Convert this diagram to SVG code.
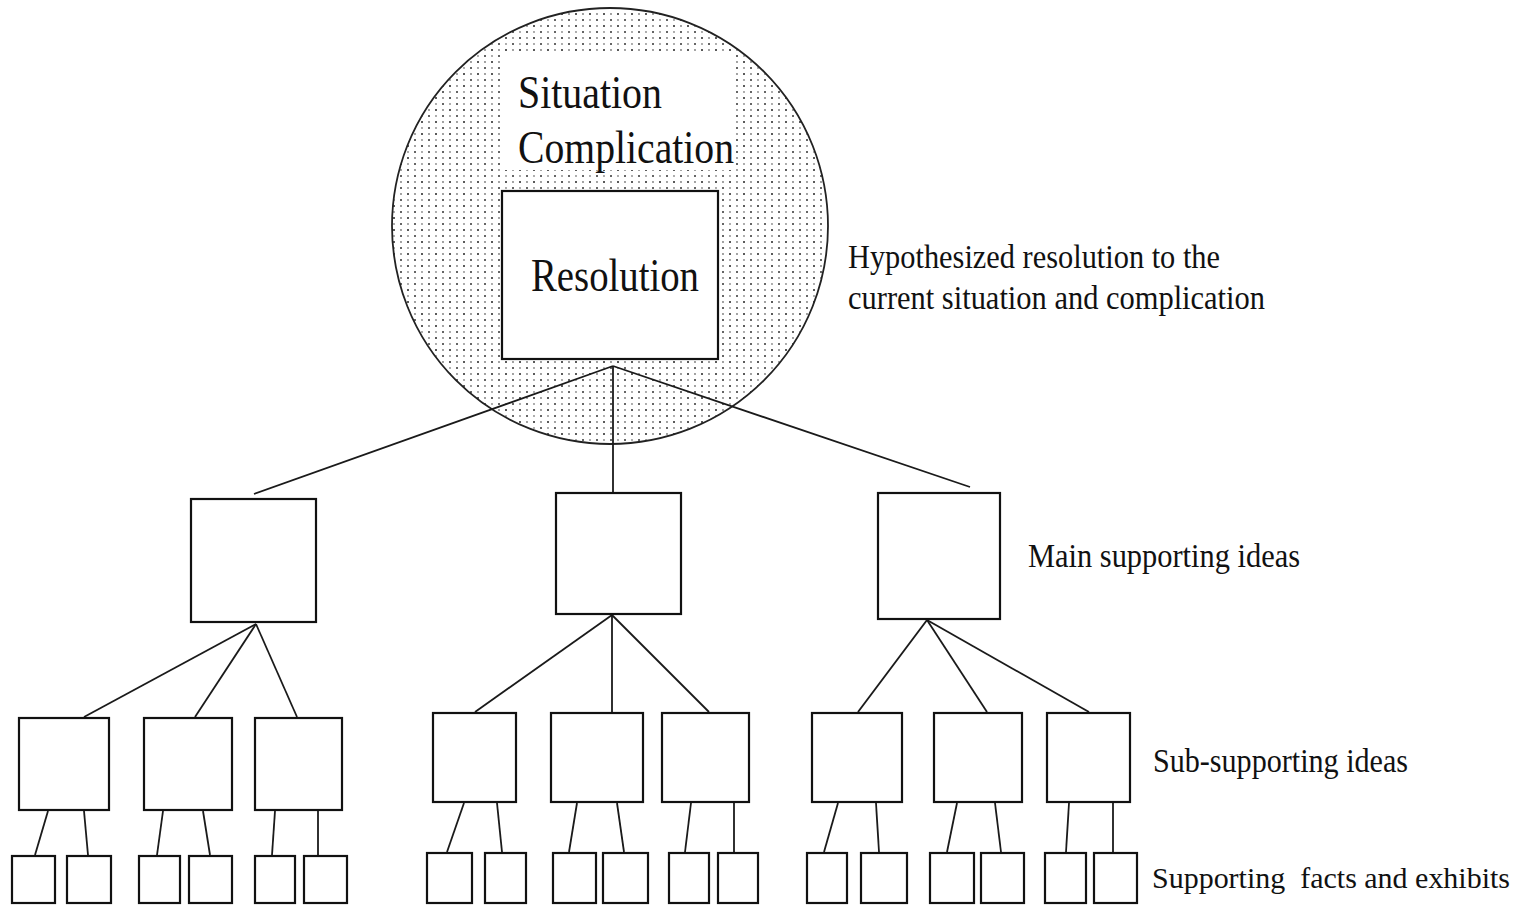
<svg xmlns="http://www.w3.org/2000/svg" width="1534" height="905" viewBox="0 0 1534 905">
<defs>
<pattern id="dots" x="0" y="0" width="14" height="12" patternUnits="userSpaceOnUse">
<rect x="0" y="0" width="14" height="12" fill="#fff"/>
<circle cx="2" cy="2" r="1" fill="#222"/>
<circle cx="9" cy="2" r="0.9" fill="#777"/>
<circle cx="2" cy="8" r="0.9" fill="#888"/>
<circle cx="9" cy="8" r="1" fill="#333"/>
</pattern>
<style>
.box{fill:#fff;stroke:#111;stroke-width:2.2}
.ln{stroke:#1a1a1a;stroke-width:1.8;fill:none}
.big{font-family:"Liberation Serif","Times New Roman",serif;font-size:46px;fill:#111}
.lbl{font-family:"Liberation Serif","Times New Roman",serif;font-size:33px;fill:#111}
</style>
</defs>
<rect width="1534" height="905" fill="#fff"/>
<g id="root">
<circle cx="610" cy="226" r="218" fill="url(#dots)" stroke="#222" stroke-width="1.8"/>
<rect x="505" y="55" width="230" height="115" fill="#fff"/>
<text class="big" x="518" y="108" textLength="144" lengthAdjust="spacingAndGlyphs">Situation</text>
<text class="big" x="518" y="163" textLength="216" lengthAdjust="spacingAndGlyphs">Complication</text>
<rect class="box" x="502" y="191" width="216" height="168"/>
<text class="big" x="531" y="291" textLength="168" lengthAdjust="spacingAndGlyphs">Resolution</text>
</g>
<g id="connectors">
<line class="ln" x1="613" y1="366" x2="254" y2="494"/>
<line class="ln" x1="613" y1="366" x2="613" y2="493"/>
<line class="ln" x1="613" y1="366" x2="970" y2="487"/>
<line class="ln" x1="256" y1="624" x2="84" y2="717"/>
<line class="ln" x1="256" y1="624" x2="195" y2="717"/>
<line class="ln" x1="256" y1="624" x2="297" y2="717"/>
<line class="ln" x1="612" y1="615" x2="475" y2="712"/>
<line class="ln" x1="612" y1="615" x2="612" y2="713"/>
<line class="ln" x1="612" y1="615" x2="709" y2="712"/>
<line class="ln" x1="927" y1="620" x2="858" y2="712"/>
<line class="ln" x1="927" y1="620" x2="987" y2="712"/>
<line class="ln" x1="927" y1="620" x2="1089" y2="712"/>
<line class="ln" x1="48" y1="811" x2="35" y2="855"/>
<line class="ln" x1="84" y1="811" x2="88" y2="855"/>
<line class="ln" x1="163" y1="811" x2="157" y2="855"/>
<line class="ln" x1="203" y1="811" x2="210" y2="855"/>
<line class="ln" x1="275" y1="811" x2="272" y2="855"/>
<line class="ln" x1="318" y1="811" x2="318" y2="855"/>
<line class="ln" x1="464" y1="803" x2="447" y2="852"/>
<line class="ln" x1="497" y1="803" x2="502" y2="852"/>
<line class="ln" x1="577" y1="803" x2="569" y2="852"/>
<line class="ln" x1="617" y1="803" x2="624" y2="852"/>
<line class="ln" x1="691" y1="803" x2="685" y2="852"/>
<line class="ln" x1="734" y1="803" x2="734" y2="852"/>
<line class="ln" x1="838" y1="803" x2="824" y2="852"/>
<line class="ln" x1="876" y1="803" x2="879" y2="852"/>
<line class="ln" x1="957" y1="803" x2="947" y2="852"/>
<line class="ln" x1="995" y1="803" x2="1001" y2="852"/>
<line class="ln" x1="1069" y1="803" x2="1066" y2="852"/>
<line class="ln" x1="1113" y1="803" x2="1113" y2="852"/>
</g>
<g id="main1"><rect class="box" x="191" y="499" width="125" height="123"/></g>
<g id="main2"><rect class="box" x="556" y="493" width="125" height="121"/></g>
<g id="main3"><rect class="box" x="878" y="493" width="122" height="126"/></g>
<g id="sub1"><rect class="box" x="19" y="718" width="90" height="92"/></g>
<g id="sub2"><rect class="box" x="144" y="718" width="88" height="92"/></g>
<g id="sub3"><rect class="box" x="255" y="718" width="87" height="92"/></g>
<g id="sub4"><rect class="box" x="433" y="713" width="83" height="89"/></g>
<g id="sub5"><rect class="box" x="551" y="713" width="92" height="89"/></g>
<g id="sub6"><rect class="box" x="662" y="713" width="87" height="89"/></g>
<g id="sub7"><rect class="box" x="812" y="713" width="90" height="89"/></g>
<g id="sub8"><rect class="box" x="934" y="713" width="88" height="89"/></g>
<g id="sub9"><rect class="box" x="1047" y="713" width="83" height="89"/></g>
<g id="leaf1"><rect class="box" x="12" y="856" width="43" height="47"/></g>
<g id="leaf2"><rect class="box" x="67" y="856" width="44" height="47"/></g>
<g id="leaf3"><rect class="box" x="139" y="856" width="41" height="47"/></g>
<g id="leaf4"><rect class="box" x="189" y="856" width="43" height="47"/></g>
<g id="leaf5"><rect class="box" x="255" y="856" width="40" height="47"/></g>
<g id="leaf6"><rect class="box" x="304" y="856" width="43" height="47"/></g>
<g id="leaf7"><rect class="box" x="427" y="853" width="45" height="50"/></g>
<g id="leaf8"><rect class="box" x="485" y="853" width="41" height="50"/></g>
<g id="leaf9"><rect class="box" x="553" y="853" width="43" height="50"/></g>
<g id="leaf10"><rect class="box" x="603" y="853" width="45" height="50"/></g>
<g id="leaf11"><rect class="box" x="669" y="853" width="40" height="50"/></g>
<g id="leaf12"><rect class="box" x="718" y="853" width="40" height="50"/></g>
<g id="leaf13"><rect class="box" x="807" y="853" width="40" height="50"/></g>
<g id="leaf14"><rect class="box" x="861" y="853" width="46" height="50"/></g>
<g id="leaf15"><rect class="box" x="930" y="853" width="44" height="50"/></g>
<g id="leaf16"><rect class="box" x="981" y="853" width="43" height="50"/></g>
<g id="leaf17"><rect class="box" x="1045" y="853" width="41" height="50"/></g>
<g id="leaf18"><rect class="box" x="1094" y="853" width="43" height="50"/></g>
<g id="labels">
<text class="lbl" x="848" y="268" textLength="372" lengthAdjust="spacingAndGlyphs">Hypothesized resolution to the</text>
<text class="lbl" x="848" y="309" textLength="417" lengthAdjust="spacingAndGlyphs">current situation and complication</text>
<text class="lbl" x="1028" y="567" textLength="272" lengthAdjust="spacingAndGlyphs">Main supporting ideas</text>
<text class="lbl" x="1153" y="772" textLength="255" lengthAdjust="spacingAndGlyphs">Sub-supporting ideas</text>
<text class="lbl" x="1152" y="888" font-size="30" style="font-size:30px" textLength="358" lengthAdjust="spacingAndGlyphs" xml:space="preserve">Supporting  facts and exhibits</text>
</g>
</svg>
